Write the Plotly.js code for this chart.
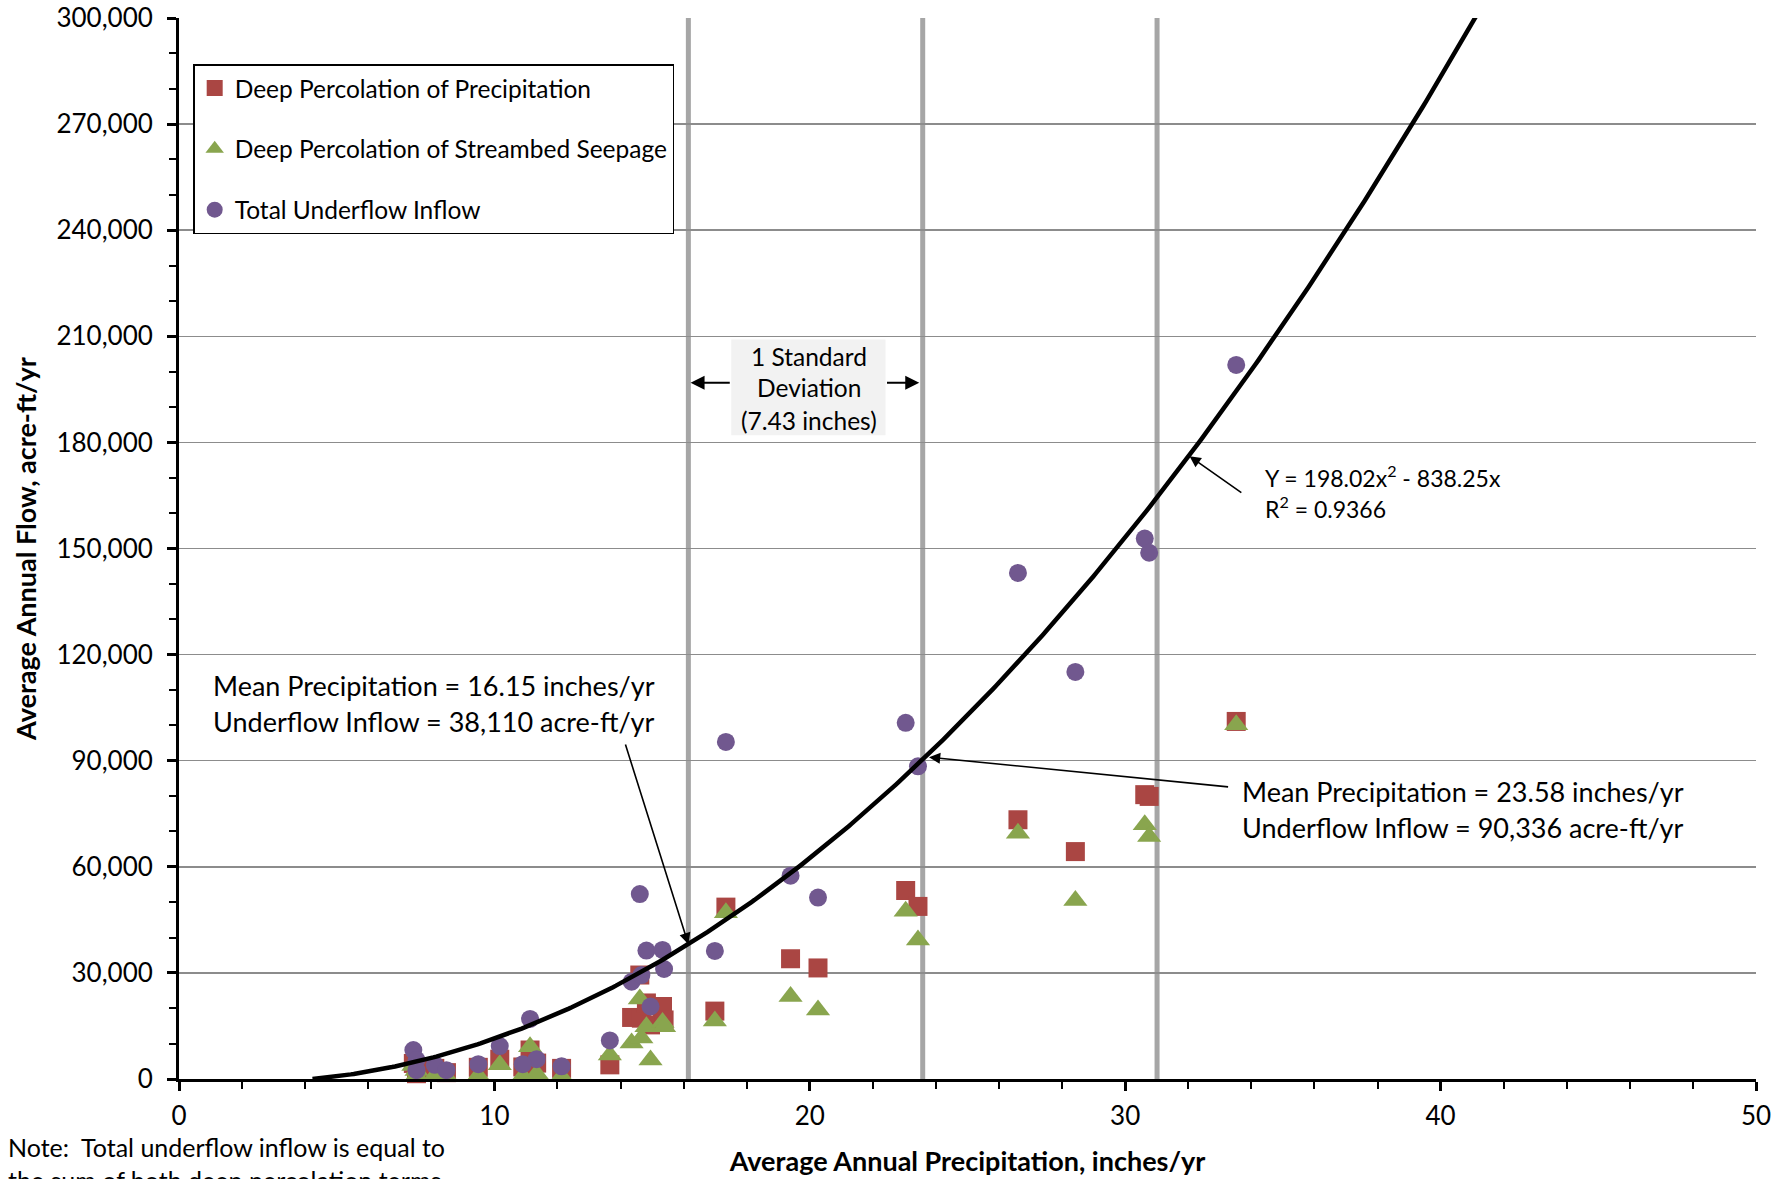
<!DOCTYPE html>
<html>
<head>
<meta charset="utf-8">
<script src="https://cdn.plot.ly/plotly-3.0.1.min.js"></script>
<style>html,body{margin:0;padding:0;background:#fff;}#chart{width:1791px;height:1179px;}</style>
</head>
<body>
<div id="chart"></div>
<script>
// Average annual precipitation (inches/yr) for each subbasin
const precip = [33.52, 30.62, 30.76, 26.60, 28.42, 23.04, 23.43, 17.34, 19.39, 20.26,
                16.99, 14.61, 14.35, 14.66, 14.82, 14.95, 15.33, 15.38, 13.66, 12.13,
                11.13, 10.17, 11.34, 10.90, 9.49, 7.43, 7.53, 7.53, 8.11, 8.48];
// Deep percolation of precipitation (acre-ft/yr)
const deepPercPrecip = [101100, 80400, 79900, 73300, 64300, 53300, 48800, 48600, 34000, 31400,
                        19200, 29400, 17400, 17200, 21500, 15300, 20500, 16700, 4000, 3000,
                        8200, 5600, 4500, 3400, 3300, 4400, 3000, 1500, 3000, 1800];
// Deep percolation of streambed seepage (acre-ft/yr)
const deepPercStream = [100200, 71900, 68600, 69500, 50500, 47400, 39300, 47000, 23300, 19500,
                        16400, 22600, 10200, 11600, 14800, 5400, 16000, 14800, 6800, 700,
                        9100, 4000, 1500, 800, 900, 3800, 2400, 1000, 1000, 700];
// Total underflow inflow (acre-ft/yr)
const totalUnderflow = [201900, 152800, 148800, 143100, 115100, 100700, 88400, 95300, 57500, 51300,
                        36200, 52300, 27500, 29400, 36300, 20500, 36500, 31100, 10900, 3600,
                        17000, 9300, 5600, 4200, 4200, 8200, 5400, 2500, 4000, 2500];
// Trendline coefficients (Y = a x^2 + b x) as printed on the chart
const trendA = 198.02;
const trendB = -838.25;
// Mean precipitation and +/- 1 standard deviation
const stdLines = [16.15, 23.58, 31.01];
const xTicks = [0, 10, 20, 30, 40, 50];
const yTicks = [0, 30000, 60000, 90000, 120000, 150000, 180000, 210000, 240000, 270000, 300000];

const trendX = [];
const trendY = [];
const x0 = -trendB / trendA;
for (let i = 0; i <= 400; i++) {
  const x = x0 + i * (41.6 - x0) / 400;
  trendX.push(x);
  trendY.push(trendA * x * x + trendB * x);
}

const FONT = 'Lato, "Open Sans", sans-serif';

const traces = [
  {x: precip, y: deepPercPrecip, type: 'scatter', mode: 'markers', name: 'Deep Percolation of Precipitation',
   legendgroup: 'a', cliponaxis: false,
   marker: {symbol: 'square', size: 19, color: '#AA4643'}},
  {x: precip, y: deepPercStream, type: 'scatter', mode: 'markers', name: 'Deep Percolation of Streambed Seepage',
   legendgroup: 'b', cliponaxis: false,
   marker: {symbol: 'triangle-up', size: 21, color: '#89A54E'}},
  {x: precip, y: totalUnderflow, type: 'scatter', mode: 'markers', name: 'Total Underflow Inflow',
   legendgroup: 'c', cliponaxis: false,
   marker: {symbol: 'circle', size: 18, color: '#71588F'}},
  {x: trendX, y: trendY, type: 'scatter', mode: 'lines', showlegend: false, hoverinfo: 'skip',
   line: {color: '#000000', width: 4.5}}
];

const shapes = stdLines.map(v => ({
  type: 'line', xref: 'x', yref: 'paper', x0: v, x1: v, y0: 0, y1: 1,
  line: {color: '#A6A6A6', width: 5}, layer: 'between'
}));
shapes.push({type: 'rect', xref: 'x', yref: 'y', x0: 17.51, x1: 22.40, y0: 182000, y1: 209100,
  fillcolor: '#F2F2F2', line: {width: 0}, layer: 'above'});

const txt = (x, y, text, size, extra) => Object.assign({
  x: x, y: y, xref: 'x', yref: 'y', text: text, showarrow: false,
  xanchor: 'left', yanchor: 'middle', font: {family: FONT, size: size, color: '#000'}
}, extra || {});

const arrow = (tx, ty, ax, ay, w) => ({
  x: tx, y: ty, ax: ax, ay: ay, xref: 'x', yref: 'y', axref: 'x', ayref: 'y',
  text: '', showarrow: true, arrowhead: 2, arrowsize: 1.4, arrowwidth: w || 1.6,
  arrowcolor: '#000', standoff: 0, startstandoff: 0
});

const annotations = [
  txt(1.01, 111400, 'Mean Precipitation = 16.15 inches/yr', 27),
  txt(1.01, 101200, 'Underflow Inflow = 38,110 acre-ft/yr', 27),
  arrow(16.15, 38110, 14.14, 95000),
  txt(33.64, 81400, 'Mean Precipitation = 23.58 inches/yr', 27),
  txt(33.64, 71000, 'Underflow Inflow = 90,336 acre-ft/yr', 27),
  arrow(23.78, 91000, 33.31, 82550),
  txt(34.36, 170300, 'Y = 198.02x<sup>2</sup> - 838.25x', 23),
  txt(34.36, 161500, 'R<sup>2</sup> = 0.9366', 23),
  arrow(32.04, 176100, 33.73, 165500),
  txt(19.96, 204400, '1 Standard', 24.5, {xanchor: 'center'}),
  txt(19.96, 195400, 'Deviation', 24.5, {xanchor: 'center'}),
  txt(19.96, 186300, '(7.43 inches)', 24.5, {xanchor: 'center'}),
  arrow(16.22, 196900, 17.51, 196900, 2),
  arrow(23.47, 196900, 22.40, 196900, 2),
  {xref: 'paper', yref: 'paper', x: -0.1097, y: -0.048, xanchor: 'left', yanchor: 'top', align: 'left',
   showarrow: false, text: 'Note:  Total underflow inflow is equal to<br>the sum of both deep percolation terms.',
   font: {family: FONT, size: 25, color: '#000'}}
];

const layout = {
  width: 1791, height: 1179,
  margin: {l: 179, r: 35, t: 18, b: 100, pad: 0},
  paper_bgcolor: '#fff', plot_bgcolor: '#fff',
  font: {family: FONT, size: 26, color: '#000'},
  showlegend: true,
  legend: {x: 0.009, y: 0.9566, xanchor: 'left', yanchor: 'top',
    bgcolor: '#fff', bordercolor: '#000', borderwidth: 1.5,
    font: {family: FONT, size: 24.5, color: '#000'}, tracegroupgap: 26,
    itemsizing: 'trace'},
  xaxis: {range: [0, 50], tickvals: xTicks, ticktext: xTicks.map(String),
    showgrid: false, zeroline: false, showline: true, linecolor: '#000', linewidth: 3,
    ticks: 'outside', ticklen: 9, tickwidth: 3, tickcolor: '#000', ticklabelstandoff: 3,
    minor: {dtick: 2, ticks: 'outside', ticklen: 7, tickwidth: 2, tickcolor: '#000', showgrid: false},
    tickfont: {family: FONT, size: 26, color: '#000'}, automargin: false,
    title: {text: '<b>Average Annual Precipitation, inches/yr</b>', standoff: 22,
      font: {family: FONT, size: 27, color: '#000'}}},
  yaxis: {range: [0, 300000], tickvals: yTicks, ticktext: yTicks.map(v => v.toLocaleString('en-US')),
    showgrid: true, gridcolor: '#8C8C8C', gridwidth: 1.5, zeroline: false,
    showline: true, linecolor: '#000', linewidth: 3,
    ticks: 'outside', ticklen: 9, tickwidth: 3, tickcolor: '#000', ticklabelstandoff: 9,
    minor: {dtick: 10000, ticks: 'outside', ticklen: 7, tickwidth: 2, tickcolor: '#000', showgrid: false},
    tickfont: {family: FONT, size: 26, color: '#000'}, automargin: false,
    title: {text: '<b>Average Annual Flow, acre-ft/yr</b>', standoff: 12,
      font: {family: FONT, size: 27, color: '#000'}}},
  shapes: shapes,
  annotations: annotations
};

Plotly.newPlot('chart', traces, layout, {displayModeBar: false, staticPlot: true});
</script>
</body>
</html>
